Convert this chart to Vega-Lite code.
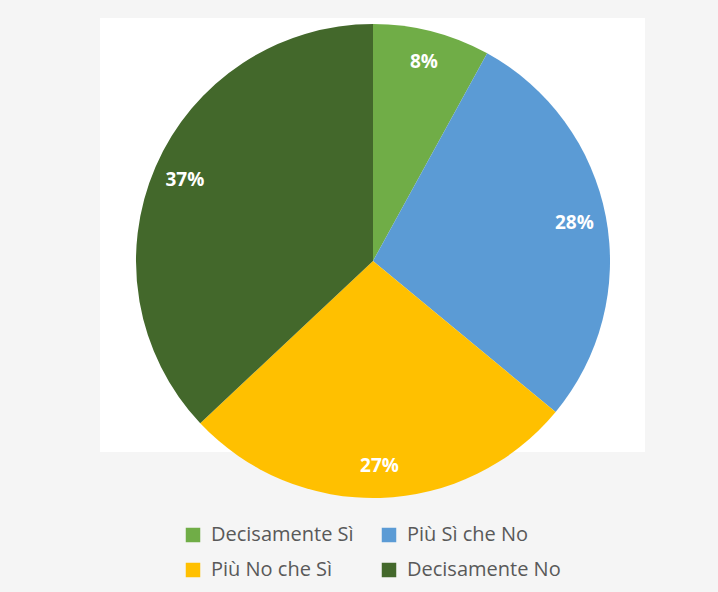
{
  "$schema": "https://vega.github.io/schema/vega-lite/v6.json",
  "width": 545,
  "height": 434,
  "autosize": {"type": "none"},
  "padding": {"left": 100, "top": 18, "right": 73, "bottom": 140},
  "background": "#f5f5f5",
  "view": {"fill": "white", "stroke": null},
  "data": {
    "values": [
      {"category": "Decisamente Sì", "value": 8, "idx": 1, "label": "8%"},
      {"category": "Più Sì che No", "value": 28, "idx": 2, "label": "28%"},
      {"category": "Più No che Sì", "value": 27, "idx": 3, "label": "27%"},
      {"category": "Decisamente No", "value": 37, "idx": 4, "label": "37%"}
    ]
  },
  "encoding": {
    "theta": {"field": "value", "type": "quantitative", "stack": true},
    "order": {"field": "idx", "type": "quantitative"},
    "x": {"value": 273},
    "y": {"value": 243}
  },
  "layer": [
    {
      "mark": {"type": "arc", "outerRadius": 237},
      "encoding": {
        "color": {
          "field": "category",
          "type": "nominal",
          "scale": {
            "domain": ["Decisamente Sì", "Più Sì che No", "Più No che Sì", "Decisamente No"],
            "range": ["#70AD47", "#5B9BD5", "#FFC000", "#43682B"]
          },
          "legend": {
            "title": null,
            "orient": "none",
            "legendX": 83,
            "legendY": 507,
            "values": ["Decisamente Sì", "Più No che Sì", "Più Sì che No", "Decisamente No"],
            "columns": 2,
            "columnPadding": 25,
            "rowPadding": 15,
            "symbolType": "square",
            "symbolSize": 210,
            "symbolStrokeWidth": 0,
            "symbolOffset": 0,
            "labelOffset": 8,
            "labelFont": "Open Sans",
            "labelFontSize": 20,
            "labelColor": "#595959",
            "labelLimit": 300
          }
        }
      }
    },
    {
      "mark": {"type": "text", "radius": 205, "font": "Open Sans", "fontSize": 19, "fontWeight": "bold", "fill": "white"},
      "encoding": {
        "text": {"field": "label", "type": "nominal"}
      }
    }
  ]
}
